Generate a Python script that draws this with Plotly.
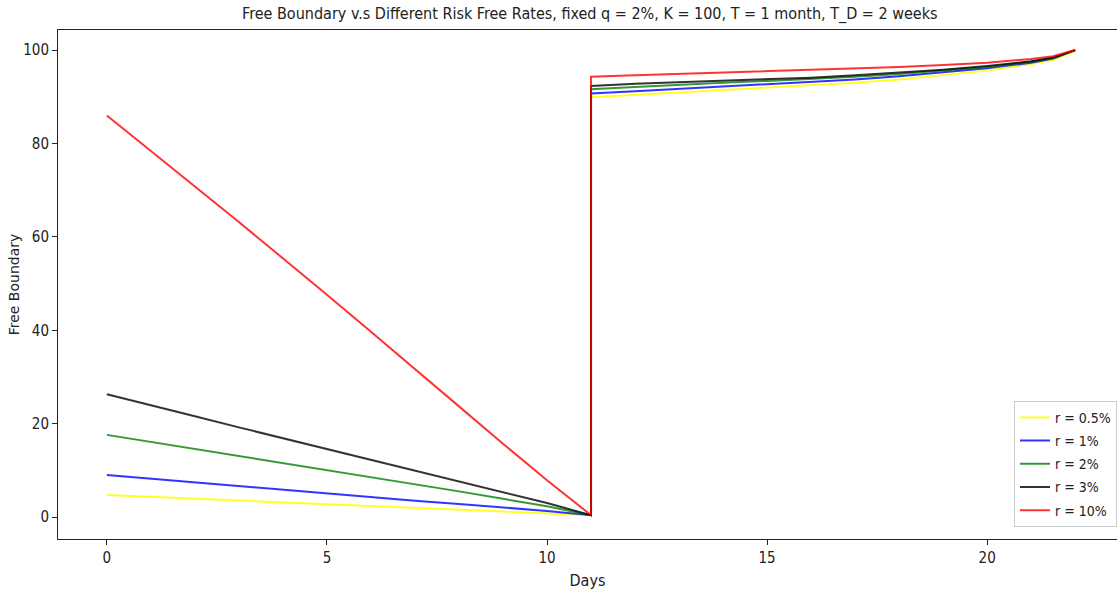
import plotly.graph_objects as go

# Days before and after the dividend date (jump at day 11)
days_pre = [0, 1, 2, 3, 4, 5, 6, 7, 8, 9, 10, 11]
days_post = [11, 12, 13, 14, 15, 16, 17, 18, 19, 20, 21, 21.5, 22]

labels = ["r = 0.5%", "r = 1%", "r = 2%", "r = 3%", "r = 10%"]
colors = ["rgba(255,255,0,0.85)", "rgba(0,0,255,0.8)", "rgba(0,128,0,0.8)",
          "rgba(0,0,0,0.8)", "rgba(255,0,0,0.8)"]

r05_pre = [4.7, 4.3, 3.9, 3.5, 3.1, 2.7, 2.3, 1.9, 1.6, 1.2, 0.8, 0.4]
r1_pre = [9.0, 8.2, 7.4, 6.6, 5.8, 5.0, 4.3, 3.5, 2.8, 2.1, 1.3, 0.4]
r2_pre = [17.6, 16.1, 14.6, 13.1, 11.6, 10.1, 8.6, 7.0, 5.5, 3.9, 2.3, 0.4]
r3_pre = [26.3, 24.0, 21.6, 19.2, 16.9, 14.6, 12.3, 10.0, 7.7, 5.4, 3.0, 0.4]
r10_pre = [86.0, 78.5, 70.8, 63.2, 55.5, 47.6, 39.7, 31.8, 23.7, 15.7, 7.9, 0.4]

r05_post = [89.9, 90.4, 90.9, 91.4, 91.9, 92.4, 93.0, 93.7, 94.6, 95.6, 97.0, 97.9, 99.8]
r1_post = [90.7, 91.2, 91.7, 92.2, 92.7, 93.2, 93.7, 94.4, 95.2, 96.1, 97.3, 98.2, 100.0]
r2_post = [91.6, 92.1, 92.6, 93.0, 93.4, 93.8, 94.3, 94.9, 95.6, 96.4, 97.5, 98.3, 100.0]
r3_post = [92.3, 92.8, 93.1, 93.4, 93.7, 94.1, 94.6, 95.2, 95.8, 96.6, 97.6, 98.4, 100.0]
r10_post = [94.3, 94.6, 94.9, 95.1, 95.4, 95.7, 96.0, 96.4, 96.8, 97.3, 98.1, 98.7, 100.0]

pre = [r05_pre, r1_pre, r2_pre, r3_pre, r10_pre]
post = [r05_post, r1_post, r2_post, r3_post, r10_post]

x_ticks = [0, 5, 10, 15, 20]
y_ticks = [0, 20, 40, 60, 80, 100]

fig = go.Figure()
for i, (lab, col, a, b) in enumerate(zip(labels, colors, pre, post)):
    fig.add_trace(go.Scatter(
        x=days_pre + days_post, y=a + b, mode="lines", name=lab,
        legendgroup="g%d" % i,
        line=dict(color=col, width=2)))

font_n = "Liberation Sans Narrow, DejaVu Sans Condensed, sans-serif"
fig.update_layout(
    width=1117, height=591,
    margin=dict(l=58, r=0, t=30, b=52),
    paper_bgcolor="white", plot_bgcolor="white",
    font=dict(family=font_n, size=15, color="#222"),
    title=dict(text="Free Boundary v.s Different Risk Free Rates, fixed q = 2%, K = 100, T = 1 month, T_D = 2 weeks",
               x=0.528, xanchor="center", y=0.977, yanchor="middle",
               font=dict(family=font_n, size=16, color="#222")),
    showlegend=True,
    legend=dict(x=1, xanchor="right", y=0.024, yanchor="bottom",
                bgcolor="white", bordercolor="#cccccc", borderwidth=1,
                font=dict(family=font_n, size=14, color="#222"),
                itemwidth=30, tracegroupgap=2),
    xaxis=dict(range=[-1.11, 22.95], tickvals=x_ticks, showgrid=False, zeroline=False,
               showline=True, linecolor="#222", linewidth=1, mirror=True,
               ticks="outside", ticklen=5, tickcolor="#222",
               tickfont=dict(family=font_n, size=15),
               title=dict(text="Days", font=dict(family=font_n, size=16, color="#222"), standoff=8)),
    yaxis=dict(range=[-4.7, 104.3], tickvals=y_ticks, showgrid=False, zeroline=False,
               showline=True, linecolor="#222", linewidth=1, mirror=False,
               ticks="outside", ticklen=5, tickcolor="#222",
               tickfont=dict(family=font_n, size=15),
               title=dict(text="Free Boundary", font=dict(family="DejaVu Sans", size=14, color="#222"), standoff=0)),
)

fig.write_html("out.html", config={"displayModeBar": False},
               post_script="document.body.style.margin='0';document.body.style.overflow='hidden';")
